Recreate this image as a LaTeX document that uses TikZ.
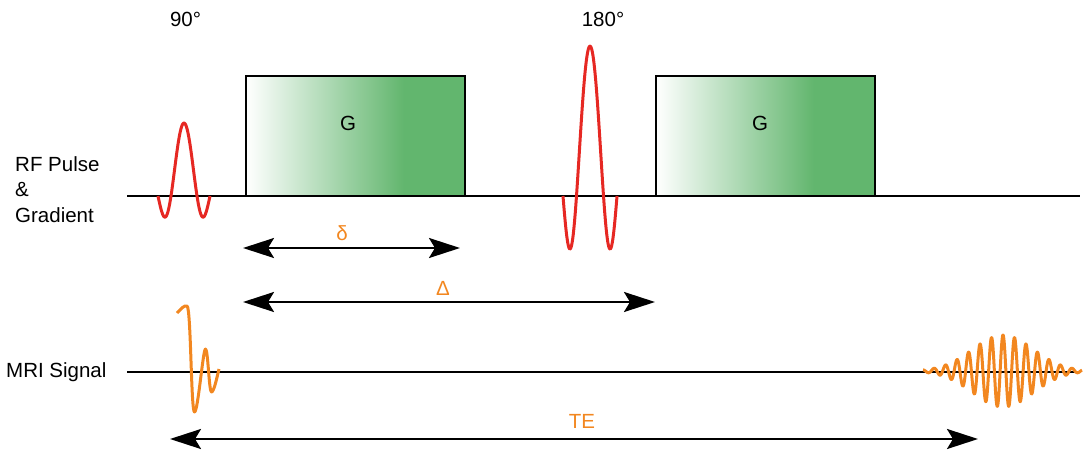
\documentclass[tikz,border=0pt]{standalone}
\usepackage{fontspec}
\setmainfont{Liberation Sans}
\usetikzlibrary{arrows.meta}
\definecolor{rfred}{RGB}{230,40,35}
\definecolor{sigorange}{RGB}{242,135,32}
\definecolor{gboxgreen}{RGB}{98,182,110}
\pgfdeclarehorizontalshading{gboxshade}{100bp}{color(0bp)=(white); color(25bp)=(white); color(61bp)=(gboxgreen); color(100bp)=(gboxgreen)}
\begin{document}
\begin{tikzpicture}[x=1pt,y=-1pt,
  lbl/.style={font=\fontsize{20.5}{24}\selectfont, inner sep=0pt},
  olbl/.style={lbl, text=sigorange},
  axisline/.style={line width=2.5pt},
  gradbox/.style={draw, line width=2.5pt, minimum width=219pt, minimum height=120pt, inner sep=0pt,
    shade, shading=gboxshade},
  rfpulse/.style={rfred, line width=3pt, line join=round},
  sigwave/.style={sigorange, line width=3pt, line join=round},
  span/.style={line width=2.5pt, {Stealth[length=31pt,width=20pt,inset=6pt]}-{Stealth[length=31pt,width=20pt,inset=6pt]}}
]
\useasboundingbox (0,0) rectangle (1083,452);

% labels
\node[lbl, anchor=base west] (rf1) at (15,171) {RF Pulse};
\node[lbl, anchor=base west] (rf2) at (15,196) {\&};
\node[lbl, anchor=base west] (rf3) at (15,222) {Gradient};
\node[lbl, anchor=base west] (mri) at (6,377) {MRI Signal};
\node[lbl, anchor=base] (deg90) at (185.5,27) {90°};
\node[lbl, anchor=base] (deg180) at (603,27) {180°};

% baselines
\coordinate (rfL) at (127,196);
\coordinate (rfR) at (1080,196);
\coordinate (sgL) at (127,372);
\coordinate (sgR) at (1080,372);
\draw[axisline] (rfL) -- (rfR);
\draw[axisline] (sgL) -- (sgR);

% gradient boxes
\node[gradbox] (g1) at (355.5,136) {};
\node[gradbox] (g2) at (765.5,136) {};
\node[lbl, anchor=base] (g1t) at (348,130) {G};
\node[lbl, anchor=base] (g2t) at (760,130) {G};

% RF pulses
\draw[rfpulse] plot[domain=-6.283:6.283, samples=80, smooth]
  ({184+4.14*(\x)}, {196 - 73*(1+0.0162*(\x)*(\x))*sin((\x) r)/(\x)});
\draw[rfpulse] plot[domain=-6.283:6.283, samples=80, smooth]
  ({590+4.3*(\x)}, {196 - 150*(1+0.03*(\x)*(\x))*sin((\x) r)/(\x)});

% MRI signals
\draw[sigwave] (177,313) .. controls (181,309) and (184,305) .. (187,306)
  .. controls (191,307) and (191,412) .. (194.5,412)
  .. controls (198,412) and (203,349) .. (205.5,349)
  .. controls (208,349) and (209,392) .. (211.5,392)
  .. controls (214,392) and (217,377) .. (219,369);
\draw[sigwave] plot[domain=-80:79, samples=480]
  ({1003+\x}, {371 - 36*exp(-(\x/43)*(\x/43))*cos(31.304*(\x))});

% spans
\coordinate (dS) at (243,248);
\coordinate (dE) at (460,248);
\coordinate (DS) at (243,302);
\coordinate (DE) at (655,302);
\coordinate (tS) at (170,439);
\coordinate (tE) at (978,439);
\draw[span] (dS) -- (dE);
\draw[span] (DS) -- (DE);
\draw[span] (tS) -- (tE);
\node[olbl, anchor=base] (dlbl) at (342,240) {δ};
\node[olbl, anchor=base] (Dlbl) at (443,295) {Δ};
\node[olbl, anchor=base] (telbl) at (582,428) {TE};
\end{tikzpicture}
\end{document}
